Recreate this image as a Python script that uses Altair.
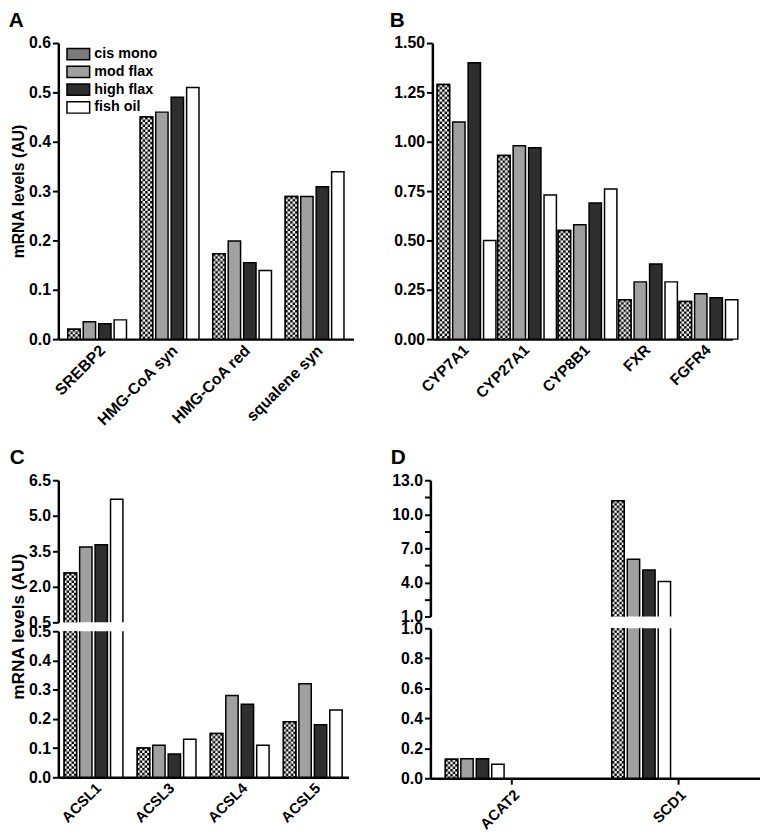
import altair as alt
import pandas as pd
from urllib.parse import quote

GROUPS = ["cis mono", "mod flax", "high flax", "fish oil"]
FILLS = ["#7a7a7a", "#a0a0a0", "#2e2e2e", "#ffffff"]

A_GENES = ["SREBP2", "HMG-CoA syn", "HMG-CoA red", "squalene syn"]
A_CIS = [0.020, 0.450, 0.173, 0.289]
A_MOD = [0.035, 0.460, 0.199, 0.289]
A_HIGH = [0.031, 0.490, 0.155, 0.309]
A_FISH = [0.039, 0.510, 0.139, 0.339]

B_GENES = ["CYP7A1", "CYP27A1", "CYP8B1", "FXR", "FGFR4"]
B_CIS = [1.29, 0.93, 0.55, 0.20, 0.19]
B_MOD = [1.10, 0.98, 0.58, 0.29, 0.23]
B_HIGH = [1.40, 0.97, 0.69, 0.38, 0.21]
B_FISH = [0.50, 0.73, 0.76, 0.29, 0.20]

C_GENES = ["ACSL1", "ACSL3", "ACSL4", "ACSL5"]
C_CIS = [2.58, 0.10, 0.15, 0.19]
C_MOD = [3.68, 0.11, 0.28, 0.32]
C_HIGH = [3.78, 0.08, 0.25, 0.18]
C_FISH = [5.70, 0.13, 0.11, 0.23]

D_GENES = ["ACAT2", "SCD1"]
D_CIS = [0.127, 11.2]
D_MOD = [0.13, 6.04]
D_HIGH = [0.13, 5.1]
D_FISH = [0.094, 4.07]

FONT = "Liberation Sans"

CELL = 2.5
_svg = (
    "<svg xmlns='http://www.w3.org/2000/svg'><defs>"
    f"<pattern id='c' width='{2*CELL}' height='{2*CELL}' patternUnits='userSpaceOnUse'>"
    f"<rect width='{2*CELL}' height='{2*CELL}' fill='white'/>"
    f"<rect width='{CELL}' height='{CELL}' fill='black'/>"
    f"<rect x='{CELL}' y='{CELL}' width='{CELL}' height='{CELL}' fill='black'/>"
    "</pattern></defs><rect width='100%' height='100%' fill='url(#c)'/></svg>"
)
CHECK_URL = "data:image/svg+xml;charset=utf-8," + quote(_svg)

RECT_PATH = "M-2,-1H2V1H-2Z"


def make_df(genes, cis, mod, high, fish):
    rows = []
    for grp, vals in zip(GROUPS, [cis, mod, high, fish]):
        for g, v in zip(genes, vals):
            rows.append({"gene": g, "group": grp, "value": v})
    return pd.DataFrame(rows)


def panel(df, genes, w, h, ydom, yvals, yfmt, *, show_x=True, x_ticks=False,
          ytitle=None, title_y=None, legend=None, pi=0.2, po=0.1, bp=0.2,
          clip=False, label_expr=None, title_size=16, title_pad=3, xfs=16):
    if show_x:
        xaxis = alt.Axis(labelAngle=-45, ticks=x_ticks, tickSize=6, labelPadding=3,
                         title=None, labelFontSize=xfs, labelFont=FONT,
                         labelFontWeight="bold", labelColor="black", labelLimit=300)
    else:
        xaxis = None
    x = alt.X("gene:N", sort=genes, axis=xaxis,
              scale=alt.Scale(paddingInner=pi, paddingOuter=po))
    xo = alt.XOffset("group:N", sort=GROUPS, scale=alt.Scale(paddingInner=bp))
    ax = dict(values=yvals, format=yfmt, title=ytitle, titleFontSize=title_size,
              titlePadding=title_pad, labelFontSize=16)
    if label_expr:
        ax["labelExpr"] = label_expr
    if title_y is not None:
        ax["titleY"] = title_y
    y = alt.Y("value:Q", axis=alt.Axis(**ax),
              scale=alt.Scale(domain=ydom, nice=False, zero=False))
    fill = alt.Fill("group:N", sort=GROUPS,
                    scale=alt.Scale(domain=GROUPS, range=FILLS), legend=legend)
    base = alt.Chart(df).properties(width=w, height=h)
    bars = base.mark_bar(stroke="black", strokeWidth=1.5, clip=clip).encode(
        x=x, xOffset=xo, y=y, y2=alt.datum(0), fill=fill)
    cis = base.transform_filter(alt.datum.group == "cis mono")
    img = cis.mark_image(aspect=False, clip=clip).encode(
        x=x, xOffset=xo, y=y, y2=alt.datum(0), url=alt.value(CHECK_URL))
    outline = cis.mark_bar(fill=None, stroke="black", strokeWidth=1.5, clip=clip).encode(
        x=x, xOffset=xo, y=y, y2=alt.datum(0))
    return alt.layer(bars, img, outline).resolve_scale(fill="independent")


def letter(t, dx=0):
    return alt.TitleParams(t, anchor="start", frame="bounds", fontSize=21,
                           fontWeight="bold", font=FONT, color="black", offset=4, dx=dx)


legend_a = alt.Legend(
    title=None, orient="none", legendX=13, legendY=4,
    symbolType=RECT_PATH, symbolSize=132,
    symbolStrokeColor="black", symbolStrokeWidth=1.5,
    labelFontSize=14.5, labelFont=FONT, labelFontWeight="bold",
    labelColor="black", rowPadding=0, labelOffset=9, symbolOpacity=1,
)

dfA = make_df(A_GENES, A_CIS, A_MOD, A_HIGH, A_FISH)
dfB = make_df(B_GENES, B_CIS, B_MOD, B_HIGH, B_FISH)
dfC = make_df(C_GENES, C_CIS, C_MOD, C_HIGH, C_FISH)
dfD = make_df(D_GENES, D_CIS, D_MOD, D_HIGH, D_FISH)

chartA = panel(dfA, A_GENES, 299, 300, [0, 0.6], [0, 0.1, 0.2, 0.3, 0.4, 0.5, 0.6], ".1f",
               ytitle="mRNA levels (AU)", legend=legend_a, pi=0.19, po=0.13,
               title_pad=2).properties(title=letter("A", dx=-2))
chartB = panel(dfB, B_GENES, 304, 300, [0, 1.5], [0, 0.25, 0.5, 0.75, 1.0, 1.25, 1.5], ".2f",
               pi=0.2, po=0.08, xfs=15.5).properties(title=letter("B", dx=-4))

cUp = panel(dfC, C_GENES, 294, 144, [0.5, 6.5], [0.5, 2.0, 3.5, 5.0, 6.5], ".1f",
            show_x=False, pi=0.19, po=0.08, clip=True)
cLo = panel(dfC, C_GENES, 294, 148, [0, 0.5], [0, 0.1, 0.2, 0.3, 0.4, 0.5], ".1f",
            ytitle="mRNA levels (AU)", title_y=-5, title_size=17.5, title_pad=1,
            pi=0.19, po=0.08, clip=True, xfs=15)
chartC = alt.vconcat(cUp, cLo, spacing=9, bounds="flush").resolve_scale(
    fill="independent").properties(title=letter("C", dx=0))

dUp = panel(dfD, D_GENES, 334, 138, [1, 13], [1, 2.5, 4, 5.5, 7, 8.5, 10, 11.5, 13], ".1f",
            show_x=False, pi=0.2, po=0.09, clip=True,
            label_expr="datum.value % 3 == 1 ? format(datum.value, '.1f') : ''")
dLo = panel(dfD, D_GENES, 334, 152, [0, 1.0], [0, 0.2, 0.4, 0.6, 0.8, 1.0], ".1f",
            x_ticks=True, pi=0.2, po=0.09, clip=True, xfs=15)
chartD = alt.vconcat(dUp, dLo, spacing=12, bounds="flush").resolve_scale(
    fill="independent").properties(title=letter("D", dx=-1))

row1 = alt.hconcat(chartA, chartB, spacing=36).resolve_scale(fill="independent")
row2 = alt.hconcat(chartC, chartD, spacing=42).resolve_scale(fill="independent")

chart = alt.concat(row1, row2, columns=1, spacing=19, align="none").resolve_scale(
    fill="independent").properties(
    padding={"left": 0, "top": -3, "right": 0, "bottom": 0}
).configure_view(stroke=None).configure_axis(
    grid=False, domainColor="black", domainWidth=2.5, tickColor="black", tickWidth=2,
    tickSize=6, labelFont=FONT, labelFontWeight="bold", labelFontSize=16,
    labelColor="black", titleFont=FONT, titleFontWeight="bold", titleColor="black",
    labelPadding=2
)

chart.save("out.html", embed_options={"renderer": "svg", "actions": False})
